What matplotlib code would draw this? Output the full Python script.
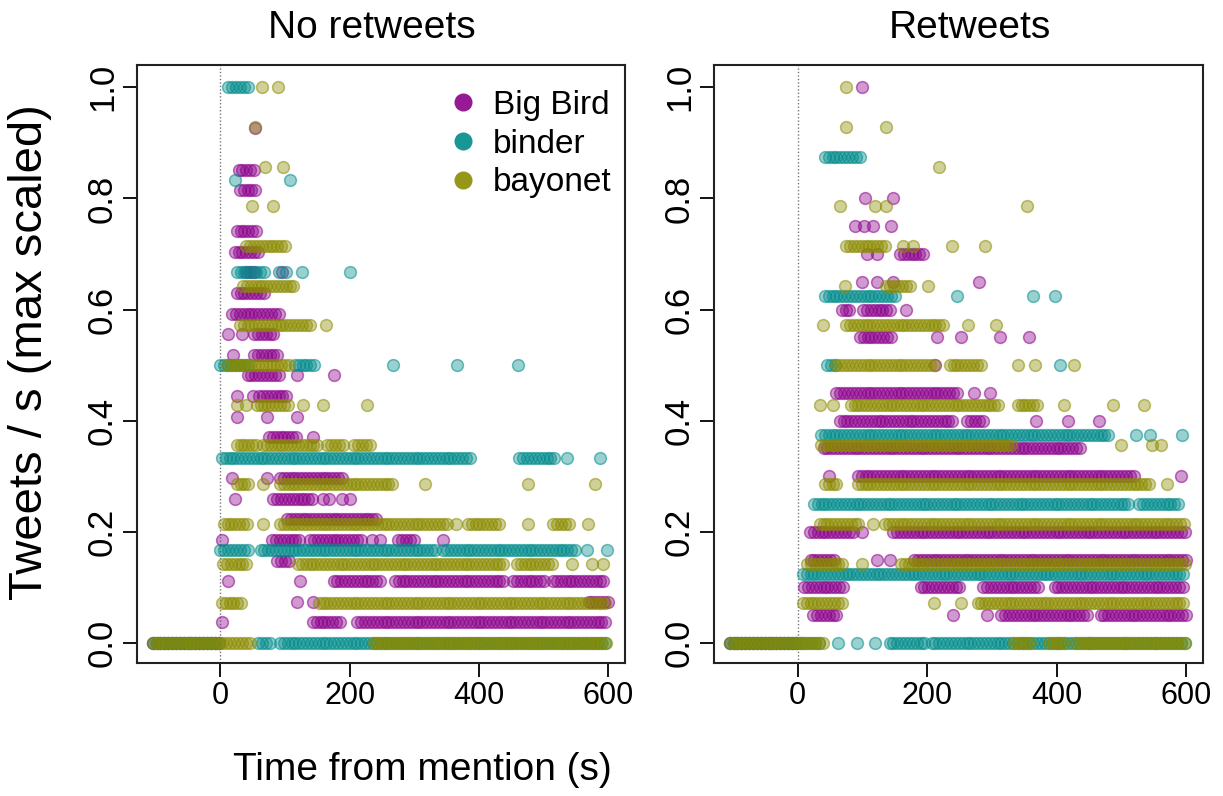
import numpy as np
import matplotlib
matplotlib.use("Agg")
import matplotlib.pyplot as plt
from matplotlib.lines import Line2D
from matplotlib.colors import to_rgba

plt.rcParams['font.family'] = ['Liberation Sans', 'DejaVu Sans']

# ---------------- data ----------------
# Each series: {numerator k: list of observed times}; y = k / max.
# A number is a single observation, a (start, end) pair is a dense run of observations.
series_names = ["Big Bird", "binder", "bayonet"]
series_colors = ["#8B008B", "#008B8B", "#8B8B00"]
x_ticks = [0, 200, 400, 600]
y_ticks = [0.0, 0.2, 0.4, 0.6, 0.8, 1.0]
y_tick_labels = ["0.0", "0.2", "0.4", "0.6", "0.8", "1.0"]
panel_titles = ["No retweets", "Retweets"]

# ---- No retweets ----
NR_BIGBIRD_MAX = 27
NR_BIGBIRD = {
    0: [(-105, 0)],
    1: [2, (143, 188), (212, 600)],
    2: [118, 143, (570, 600)],
    3: [12, 123, (175, 252), (270, 443), (453, 506), (515, 598)],
    4: [(88, 107)],
    5: [3, (80, 122), (139, 218), 235, 247, (275, 299), 345],
    6: [(103, 242)],
    7: [22, (82, 143), 158, 168, 188, 200],
    8: [18, 72, (92, 190)],
    10: [(75, 118), 143],
    11: [25, 72, 118],
    12: [25, 51, (60, 107)],
    13: [(42, 92), 118, 175],
    14: [20, (52, 88)],
    15: [12, 33, (52, 87)],
    16: [(18, 92)],
    17: [(25, 72)],
    18: [(40, 55), 95],
    19: [(22, 61)],
    20: [(25, 55)],
    22: [(30, 56)],
    23: [(28, 53)],
    25: [54],
}
NR_BINDER_MAX = 6
NR_BINDER = {
    0: [(-105, 0), (58, 78), (92, 600)],
    1: [(0, 45), (62, 335), (345, 552), 567, 598],
    2: [(2, 390), (463, 520), 536, 588],
    3: [(0, 45), (115, 149), 267, 366, 461],
    4: [(25, 72), 90, 102, 126, 200],
    5: [22, 108],
    6: [(12, 45)],
}
NR_BAYONET_MAX = 14
NR_BAYONET = {
    0: [(-105, 45), (237, 600)],
    1: [(2, 35), (152, 600)],
    2: [(4, 40), (120, 443), (459, 515), 545, 575, 593],
    3: [(5, 45), 66, (92, 345), 350, 365, (383, 433), 476, (515, 540), 569],
    4: [(25, 45), 66, (92, 268), 317, 476, 580],
    5: [(25, 55), (66, 154), (165, 192), (207, 236)],
    6: [25, 40, (56, 107), 128, 159, 227],
    7: [(10, 110)],
    8: [(30, 139), 164],
    9: [(35, 113)],
    10: [(40, 103)],
    11: [49, 82],
    12: [69, 97],
    13: [54],
    14: [64, 89],
}

# ---- Retweets ----
RT_BIGBIRD_MAX = 20
RT_BIGBIRD = {
    0: [(-105, 0)],
    1: [(24, 60), 240, 292, (315, 452), (468, 600)],
    2: [(10, 70), (190, 250), (287, 376), (397, 600)],
    3: [(20, 60), 122, 142, (180, 600)],
    4: [(19, 88), 100, (148, 600)],
    6: [48, (93, 522), 592],
    7: [(40, 436)],
    8: [(65, 243), (262, 288), 368, 418, 465],
    9: [(60, 248), 273, 297],
    10: [213],
    11: [(96, 147), 216, 253, 312, 357],
    12: [(68, 85), (101, 147), 168],
    13: [99, 122, 147, 280],
    14: [107, 122, (158, 199)],
    15: [88, 103, 116, 145],
    16: [104, 147],
    20: [99],
}
RT_BINDER_MAX = 8
RT_BINDER = {
    0: [(-105, 35), 62, 92, 120, (142, 200), (207, 335), (340, 600)],
    1: [(8, 600)],
    2: [(25, 516), (528, 592)],
    3: [(36, 482), 523, 545, 594],
    4: [(45, 60), 405],
    5: [(42, 153), 246, 363, 397],
    7: [(42, 96)],
}
RT_BAYONET_MAX = 14
RT_BAYONET = {
    0: [(-105, 40), (335, 360), (388, 412), (430, 600)],
    1: [(8, 70), 210, 252, (278, 600)],
    2: [(15, 70), 100, (160, 600)],
    3: [(34, 95), 116, (135, 600)],
    4: [(42, 65), (93, 545), 570],
    5: [(36, 330), 500, 548, 562],
    6: [35, 55, (82, 311), (340, 375), 411, 487, 535],
    7: [(60, 215), (235, 283), 340, 367, 427],
    8: [39, (75, 230), 263, 307],
    9: [73, (137, 178), 201],
    10: [(75, 137), 163, 178, 238, 290],
    11: [65, 120, 137, 355],
    12: [219],
    13: [75, 136],
    14: [75],
}

panels = [
    [(NR_BIGBIRD, NR_BIGBIRD_MAX), (NR_BINDER, NR_BINDER_MAX), (NR_BAYONET, NR_BAYONET_MAX)],
    [(RT_BIGBIRD, RT_BIGBIRD_MAX), (RT_BINDER, RT_BINDER_MAX), (RT_BAYONET, RT_BAYONET_MAX)],
]


def expand(rows, kmax, step=6):
    xs, ys = [], []
    for k, items in rows.items():
        for it in items:
            if isinstance(it, tuple):
                pts = list(np.arange(it[0], it[1] + 0.01, step))
            else:
                pts = [it]
            xs.extend(pts)
            ys.extend([k / kmax] * len(pts))
    return np.array(xs, float), np.array(ys, float)


# ---------------- figure ----------------
W, H = 1223, 796
fig = plt.figure(figsize=(W / 100, H / 100), dpi=100)


def fx(px):
    return px / W


def fy(py):
    return 1 - py / H


ax_boxes = [(137, 65, 625, 663), (714, 65, 1203, 663)]
axes = []
for (l, t, r, b) in ax_boxes:
    ax = fig.add_axes([fx(l), fy(b), (r - l) / W, (b - t) / H])
    axes.append(ax)

for ax, data in zip(axes, panels):
    ax.axvline(0, color="#777777", ls=(0, (1, 1.5)), lw=1.0, zorder=1)
    for (rows, kmax), c in zip(data, series_colors):
        x, y = expand(rows, kmax)
        ax.scatter(x, y, s=72, facecolors=[to_rgba(c, 0.40)],
                   edgecolors=[to_rgba(c, 0.55)], linewidths=1.1, zorder=2)
    ax.set_xlim(-129.3, 626.4)
    ax.set_ylim(-0.036, 1.04)
    ax.set_xticks(x_ticks)
    ax.set_xticklabels([str(v) for v in x_ticks], fontsize=22)
    ax.set_yticks(y_ticks)
    ax.set_yticklabels(y_tick_labels, fontsize=25, rotation=90, va="center")
    ax.tick_params(direction="out", length=10, width=1.3, pad=3, colors="black")
    for sp in ax.spines.values():
        sp.set_linewidth(1.5)
        sp.set_color("#222222")

# titles and axis labels
fig.text(fx(372), fy(28), panel_titles[0], fontsize=28, ha="center", va="center")
fig.text(fx(970), fy(28), panel_titles[1], fontsize=28, ha="center", va="center")
fig.text(fx(422), fy(770), "Time from mention (s)", fontsize=28, ha="center", va="center")
fig.text(fx(30), fy(352), "Tweets / s (max scaled)", fontsize=34, ha="center",
         va="center", rotation=90)

# legend
handles = [Line2D([], [], ls="", marker="o", markersize=13, color=c, alpha=0.9,
                  markeredgewidth=0) for c in series_colors]
axes[0].legend(handles, series_names, loc="upper right", bbox_to_anchor=(1.02, 0.997),
               frameon=False, fontsize=24, handletextpad=0.3, labelspacing=0.23,
               handlelength=1.2, borderaxespad=0.3)

fig.savefig("out.png", dpi=100)
